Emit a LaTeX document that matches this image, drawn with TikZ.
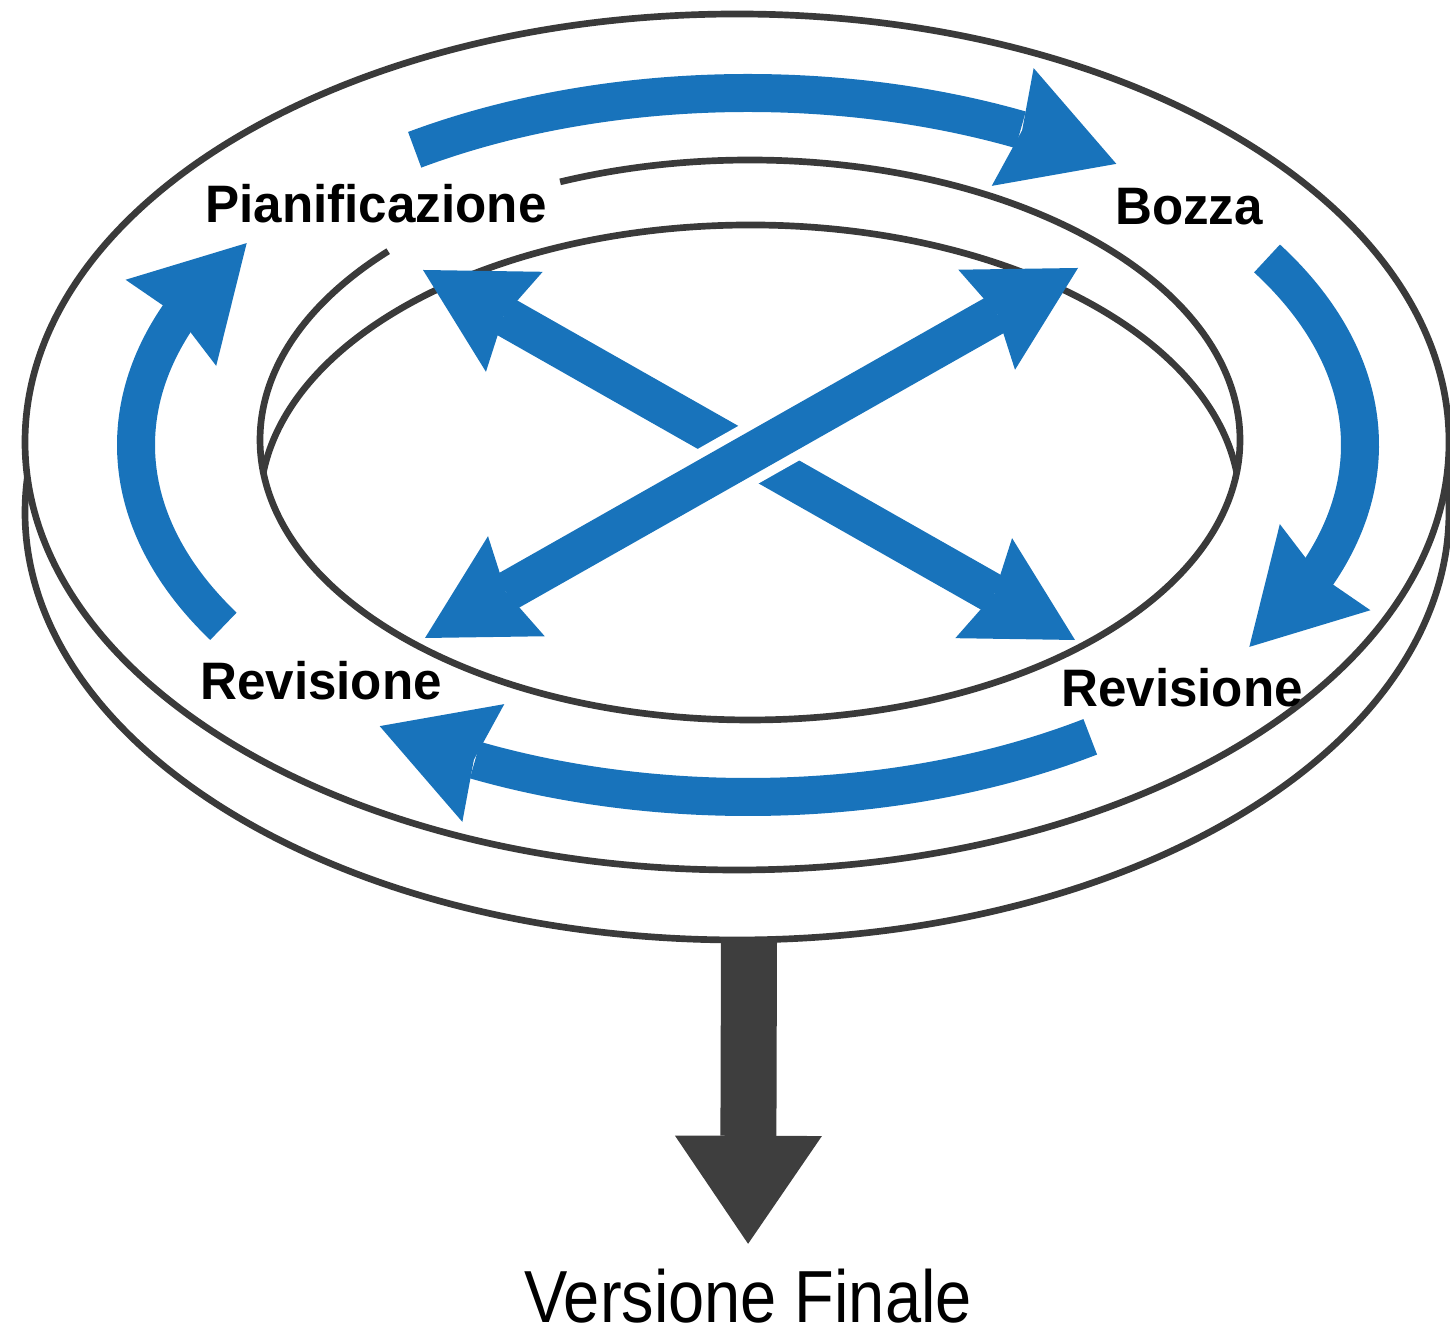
\documentclass[tikz,border=0pt]{standalone}
\usepackage{fontspec}
\setmainfont{Liberation Sans}
\newfontfamily\stagefont[FakeStretch=0.97]{Liberation Sans}
\newfontfamily\finalfont[FakeStretch=0.88]{Liberation Sans}
\usetikzlibrary{
  arrows.meta,
  bending,
  positioning
}
\definecolor{rimgray}{RGB}{58,58,58}
\definecolor{flowblue}{RGB}{24,115,187}
\definecolor{outgray}{RGB}{62,62,62}
\tikzset{
%
  % For the outlines of the ring.
  rim/.style={
    draw=rimgray,
    line width=1.9pt},
%
  % For the curved arrows round the ring.
  flow/.style={
    draw=flowblue,
    line width=3.8mm,
    -{Stealth[length=11mm,
              width=12.5mm,
              inset=1mm,
              line width=0pt,
              flex]}},
%
  % For the crossed arrows inside the hole.
  cross/.style={
    draw=flowblue,
    line width=4mm,
    {Stealth[length=10.5mm,
             width=11.5mm,
             inset=1.2mm,
             line width=0pt]}-{Stealth[length=10.5mm,
                                       width=11.5mm,
                                       inset=1.2mm,
                                       line width=0pt]}},
%
  % For the gap where one crossed arrow passes over the other.
  gap/.style={
    draw=white,
    line width=6mm},
%
  % For the stage labels.
  stage/.style={
    font=\stagefont\bfseries\fontsize{15pt}{18pt}\selectfont,
    inner sep=0pt,
    anchor=base},
%
  % For the final output arrow.
  outflow/.style={
    draw=outgray,
    line width=5.6mm,
    -{Triangle[length=10.8mm,
               width=14.7mm,
               line width=0pt]}}
}

\begin{document}
\begin{tikzpicture}
  \useasboundingbox (0,0) rectangle (14.5,13.34);

  % centres of the ellipses
  \coordinate (top) at (7.37,8.92);
  \coordinate (base) at (7.37,8.22);
  \coordinate (hole) at (7.50,8.94);
  \coordinate (floor) at (7.50,8.29);
  \coordinate (track) at (7.48,8.89);

  % the ring
  \draw[rim] (top) ellipse[x radius=7.12, y radius=4.28];
  \draw[rim, shift={(base)}] (175.3:7.12 and 4.28)
    arc[start angle=175.3, end angle=364.7, x radius=7.12, y radius=4.28];
  \draw[rim, shift={(hole)}] (137.6:4.9 and 2.8)
    arc[start angle=137.6, end angle=472.8, x radius=4.9, y radius=2.8];
  \draw[rim, shift={(floor)}] (6.7:4.9 and 2.8)
    arc[start angle=6.7, end angle=173.3, x radius=4.9, y radius=2.8];

  % stages
  \node[stage] (plan) at (3.76,11.11) {Pianificazione};
  \node[stage] (draft) at (11.89,11.09) {Bozza};
  \node[stage] (revl) at (3.21,6.34) {Revisione};
  \node[stage] (revr) at (11.82,6.27) {Revisione};

  % arrows round the ring
  \draw[flow, shift={(track)}] (123:6.12 and 3.52)
    arc[start angle=123, end angle=53, x radius=6.12, y radius=3.52];
  \draw[flow, shift={(track)}] (32:6.12 and 3.52)
    arc[start angle=32, end angle=-35, x radius=6.12, y radius=3.52];
  \draw[flow, shift={(track)}] (-56:6.12 and 3.52)
    arc[start angle=-56, end angle=-127, x radius=6.12, y radius=3.52];
  \draw[flow, shift={(track)}] (211:6.12 and 3.52)
    arc[start angle=211, end angle=145, x radius=6.12, y radius=3.52];

  % crossed arrows
  \coordinate (nw) at (4.23,10.64);
  \coordinate (se) at (10.75,6.94);
  \coordinate (ne) at (10.78,10.66);
  \coordinate (sw) at (4.25,6.96);
  \draw[cross] (nw) -- (se);
  \draw[gap, shorten <=2cm, shorten >=2cm] (ne) -- (sw);
  \draw[cross] (ne) -- (sw);

  % output
  \coordinate (rimfoot) at (7.49,3.96);
  \node[font=\finalfont\fontsize{21pt}{25pt}\selectfont,
        inner sep=0pt,
        anchor=base] (final) at (7.48,0.12) {Versione Finale};
  \draw[outflow, shorten >=2.4mm] (rimfoot) -- (final.north);
\end{tikzpicture}
\end{document}
